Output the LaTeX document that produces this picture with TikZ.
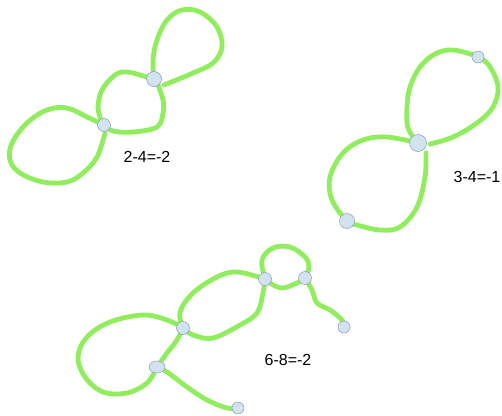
\documentclass[tikz,border=0pt]{standalone}
\usepackage{fontspec}
\setmainfont{Liberation Sans}
\usetikzlibrary{shapes.geometric}
\definecolor{strand}{HTML}{90EE5E}
\definecolor{dotfill}{HTML}{D2E2F0}
\definecolor{dotline}{HTML}{8A9BB0}
\begin{document}
\begin{tikzpicture}[x=1pt,y=-1pt,
  strandline/.style={draw=strand,line width=4.8pt,line cap=round,line join=round},
  dot/.style={circle,fill=dotfill,draw=dotline,line width=0.5pt,inner sep=0pt,minimum size=#1},
  dot/.default=12pt,
  lbl/.style={font=\fontsize{16}{19}\selectfont}]
\useasboundingbox (0,0) rectangle (502,415);
% ---------- figure 1 ----------
\coordinate (p1) at (154,79);
\coordinate (p2) at (104,125);
\draw[strandline] plot[smooth,tension=0.6] coordinates {(p1) (153,60) (157,40) (167,20) (182,10) (200,12) (217,27) (222,47) (213,63) (193,73) (164,85)};
\draw[strandline] plot[smooth,tension=0.6] coordinates {(p1) (147,77) (127,72) (115,75) (102,90) (98,107) (101,120)};
\draw[strandline] plot[smooth,tension=0.6] coordinates {(p2) (113,131) (133,132) (157,127) (163,113) (163,100) (158,85)};
\draw[strandline] plot[smooth,tension=0.6] coordinates {(p2) (87,117) (67,108) (47,110) (27,123) (12,143) (10,160) (20,173) (43,182) (67,182) (83,173) (97,157) (105,133)};
\node[dot=15pt] (n1) at (p1) {};
\node[dot=13pt] (n2) at (p2) {};
\node[lbl] (t1) at (147,157) {2-4=-2};
% ---------- figure 2 ----------
\coordinate (q1) at (418,143);
\coordinate (q2) at (478,57);
\coordinate (q3) at (347,221);
\draw[strandline] plot[smooth,tension=0.6] coordinates {(q1) (408,128) (407,107) (410,87) (420,67) (435,54) (453,50) (q2) (490,67) (498,87) (493,107) (477,123) (453,137) (430,144)};
\draw[strandline] plot[smooth,tension=0.6] coordinates {(q1) (387,137) (363,140) (343,153) (330,177) (332,200) (q3) (357,225) (380,230) (400,227) (417,207) (425,177) (426,153)};
\node[dot=17pt] (m1) at (q1) {};
\node[dot=12pt] (m2) at (q2) {};
\node[dot=15pt] (m3) at (q3) {};
\node[lbl] (t2) at (477,177) {3-4=-1};
% ---------- figure 3 ----------
\coordinate (rA) at (265,279);
\coordinate (rB) at (305,278);
\coordinate (rC) at (183,328);
\coordinate (rD) at (157,367);
\coordinate (rE) at (344,327);
\coordinate (rF) at (238,408);
\draw[strandline] plot[smooth,tension=0.6] coordinates {(rC) (180,312) (193,293) (217,277) (237,272) (rA)};
\draw[strandline] plot[smooth,tension=0.6] coordinates {(rA) (263,293) (257,313) (240,325) (213,338) (193,335) (rC)};
\draw[strandline] plot[smooth,tension=0.6] coordinates {(rA) (262,260) (273,248) (290,247) (305,257) (309,267) (rB)};
\draw[strandline] plot[smooth,tension=0.6] coordinates {(rA) (270,283) (282,288) (297,283) (rB)};
\draw[strandline] plot[smooth,tension=0.6] coordinates {(rB) (312,290) (317,303) (330,310) (342,320) (rE)};
\draw[strandline] plot[smooth,tension=0.6] coordinates {(rC) (177,340) (167,353) (rD)};
\draw[strandline] plot[smooth,tension=0.6] coordinates {(rC) (167,320) (143,315) (110,322) (87,337) (78,357) (85,377) (103,392) (127,393) (147,383) (rD)};
\draw[strandline] plot[smooth,tension=0.6] coordinates {(rD) (167,372) (187,387) (207,400) (227,408) (rF)};
\node[dot=13pt] (k1) at (rA) {};
\node[dot=13pt] (k2) at (rB) {};
\node[dot=13pt] (k3) at (rC) {};
\node[dot=12pt,ellipse,minimum width=16pt,minimum height=12pt] (k4) at (rD) {};
\node[dot=12pt] (k5) at (rE) {};
\node[dot=12pt] (k6) at (rF) {};
\node[lbl] (t3) at (288,360) {6-8=-2};
\end{tikzpicture}
\end{document}
